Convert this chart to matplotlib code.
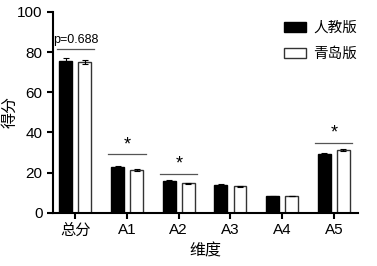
import numpy as np
import matplotlib
matplotlib.use("Agg")
import matplotlib.pyplot as plt
from matplotlib.patches import Patch

plt.rcParams['font.family'] = ['Liberation Sans', 'Noto Sans CJK SC', 'DejaVu Sans']

categories = ["总分", "A1", "A2", "A3", "A4", "A5"]
renjiao = [75.8, 23.0, 15.8, 13.8, 8.3, 29.2]
renjiao_err = [1.2, 0.5, 0.4, 0.3, 0.2, 0.6]
qingdao = [75.0, 21.3, 14.6, 13.1, 8.4, 31.1]
qingdao_err = [1.0, 0.5, 0.3, 0.3, 0.2, 0.5]

# significance marks: (category index, line height, label)
sig = [(0, 81.7, "p=0.688"), (1, 29.2, "*"), (2, 19.4, "*"), (5, 35.0, "*")]

fig = plt.figure(figsize=(3.77, 2.66), dpi=100)
ax = fig.add_axes([0.141, 0.2, 0.809, 0.755])

x = np.arange(len(categories))
w = 0.25
off = 0.185
ax.bar(x - off, renjiao, w, color="black", edgecolor="black", linewidth=1,
       yerr=renjiao_err, capsize=2, error_kw=dict(elinewidth=0.8, capthick=0.8))
ax.bar(x + off, qingdao, w, color="white", edgecolor="#333333", linewidth=1,
       yerr=qingdao_err, capsize=2, error_kw=dict(elinewidth=0.8, capthick=0.8))

for i, h, lab in sig:
    ax.plot([i - off - w / 2 - 0.05, i + off + w / 2 + 0.05], [h, h],
            color="#555555", lw=0.9)
    if lab == "*":
        ax.text(i, h + 0.5, lab, ha="center", va="bottom", fontsize=13)
    else:
        ax.text(i, h + 1.5, lab, ha="center", va="bottom", fontsize=9)

ax.set_xlim(-0.43, 5.47)
ax.set_ylim(0, 100)
ax.set_yticks([0, 20, 40, 60, 80, 100])
ax.set_xticks(x)
ax.set_xticklabels(categories)
ax.tick_params(labelsize=11, width=1.5, length=4)
for s in ["top", "right"]:
    ax.spines[s].set_visible(False)
for s in ["left", "bottom"]:
    ax.spines[s].set_linewidth(1.5)

ax.set_ylabel("得分", fontsize=11.5)
ax.yaxis.set_label_coords(-0.118, 0.5)
ax.set_xlabel("维度", fontsize=11.5, labelpad=4)

handles = [Patch(facecolor="black", edgecolor="black"),
           Patch(facecolor="white", edgecolor="#333333")]
ax.legend(handles, ["人教版", "青岛版"], loc="upper right", frameon=False,
          fontsize=10.5, handlelength=1.5, handleheight=0.7, handletextpad=0.5,
          bbox_to_anchor=(1.04, 1.02), labelspacing=0.8)

fig.savefig("out.png", dpi=100)
